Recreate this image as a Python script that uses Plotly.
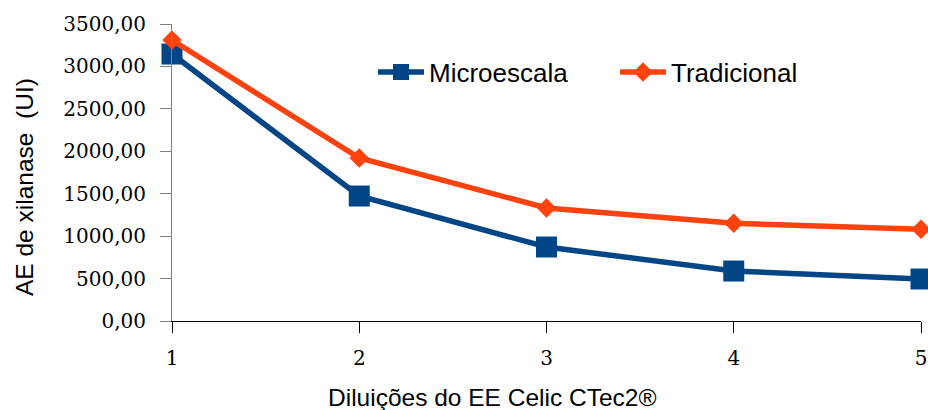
import plotly.graph_objects as go

diluicoes = [1, 2, 3, 4, 5]
microescala = [3146, 1473, 872, 589, 495]
tradicional = [3311, 1921, 1332, 1151, 1080]
y_ticks = [0, 500, 1000, 1500, 2000, 2500, 3000, 3500]

BLUE = "#004586"
ORANGE = "#ff420e"

fig = go.Figure()
fig.add_trace(go.Scatter(
    x=diluicoes, y=microescala, name="Microescala", mode="lines+markers",
    line=dict(color=BLUE, width=5.5),
    marker=dict(symbol="square", size=21, color=BLUE),
    cliponaxis=False,
))
fig.add_trace(go.Scatter(
    x=diluicoes, y=tradicional, name="Tradicional", mode="lines+markers",
    line=dict(color=ORANGE, width=5.5),
    marker=dict(symbol="diamond", size=15, color=ORANGE),
    cliponaxis=False,
))

fig.update_layout(
    width=928, height=410,
    margin=dict(l=172, r=7, t=24, b=89, autoexpand=False),
    paper_bgcolor="white", plot_bgcolor="white",
    separators=",.",
    showlegend=True,
    legend=dict(
        orientation="h", x=(373 - 172) / 749, y=0.838, xanchor="left", yanchor="middle",
        font=dict(family="Liberation Sans", size=26, color="#000000"),
        bgcolor="rgba(0,0,0,0)", itemwidth=46, entrywidth=181,
    ),
    xaxis=dict(
        range=[1, 5], tickvals=diluicoes, ticktext=[str(v) for v in diluicoes],
        showline=True, linecolor="#000000", linewidth=1,
        ticks="outside", ticklen=11, tickcolor="#000000",
        showgrid=False, zeroline=False, automargin=False,
        tickfont=dict(family="DejaVu Serif", size=20, color="#000000"),
        ticklabelstandoff=8,
    ),
    yaxis=dict(
        range=[0, 3500], tickvals=y_ticks, tickformat=".2f",
        showline=True, linecolor="#808080", linewidth=1,
        ticks="outside", ticklen=11, tickcolor="#808080",
        showgrid=False, zeroline=False, automargin=False,
        tickfont=dict(family="DejaVu Serif", size=20, color="#000000"),
        ticklabelstandoff=10,
    ),
    annotations=[
        dict(text="AE de xilanase  (UI)", xref="paper", yref="paper",
             x=(24 - 172) / 749, y=(321 - 187) / 297, textangle=-90,
             xanchor="center", yanchor="middle", showarrow=False,
             font=dict(family="Liberation Sans", size=24.5, color="#000000")),
        dict(text="Diluições do EE Celic CTec2®", xref="paper", yref="paper",
             x=(492 - 172) / 749, y=(321 - 397) / 297,
             xanchor="center", yanchor="middle", showarrow=False,
             font=dict(family="Liberation Sans", size=24.5, color="#000000")),
    ],
)

fig.write_html("out.html")
